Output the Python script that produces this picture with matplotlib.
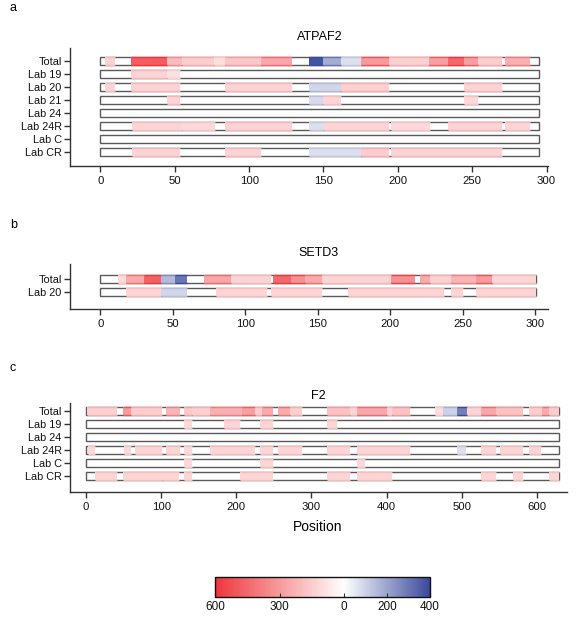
import matplotlib
matplotlib.use("Agg")
import matplotlib.pyplot as plt
from matplotlib.colors import LinearSegmentedColormap, Normalize
import matplotlib as mpl
import numpy as np

plt.rcParams['font.family'] = ['Liberation Sans', 'DejaVu Sans']

# ---------------- data ----------------
atpaf2_rows = ["Total", "Lab 19", "Lab 20", "Lab 21", "Lab 24", "Lab 24R", "Lab C", "Lab CR"]
atpaf2_length = 295
atpaf2_total = [(3, 10, -130), (20.5, 45, -480), (45, 55, -200), (55, 76.5, -150), (76.5, 84, -100),
                (84, 108, -170), (108, 129, -260), (140, 150, 380), (150, 162, 180), (162, 175, 70),
                (175, 194, -300), (194, 221, -140), (221, 234, -280), (234, 244.5, -450),
                (244.5, 254, -280), (254, 270, -150), (272, 289, -230)]
atpaf2_lab19 = [(20.5, 45, -130), (45, 53.5, -90)]
atpaf2_lab20 = [(3, 10, -120), (20.5, 53.5, -130), (84, 129, -130), (140, 161.5, 90),
                (161.5, 194, -140), (244.5, 270, -130)]
atpaf2_lab21 = [(45, 53.5, -130), (140, 150, 80), (150, 162, -120), (244.5, 254, -110)]
atpaf2_lab24 = []
atpaf2_lab24r = [(21.5, 55, -120), (55, 77, -110), (84, 129, -130), (140, 150.5, 70),
                 (150.5, 194, -120), (195.5, 221.4, -110), (233.7, 270, -130), (272, 289, -120)]
atpaf2_labc = []
atpaf2_labcr = [(21.5, 53.5, -130), (84, 108, -130), (140, 175, 70), (175, 194, -150),
                (195.5, 270, -130)]

setd3_rows = ["Total", "Lab 20"]
setd3_length = 301
setd3_total = [(12.3, 18, -110), (18, 30.2, -250), (30.2, 41.5, -470), (41.5, 51.4, 150),
               (51.4, 60.1, 300), (71.6, 90, -260), (90, 117.6, -130), (119, 131.4, -450),
               (131.4, 141.5, -330), (141.5, 153, -250), (153, 200.8, -130), (200.8, 216.9, -330),
               (220.4, 227.3, -250), (227.3, 241.7, -140), (241.7, 259.4, -220),
               (259.4, 270.3, -300), (270.3, 301, -120)]
setd3_lab20 = [(18, 41.5, -120), (41.5, 60.1, 90), (80.1, 115.3, -120), (118, 153, -120),
               (170.9, 237.1, -120), (241.7, 250.2, -120), (259.4, 301, -120)]

f2_rows = ["Total", "Lab 19", "Lab 24", "Lab 24R", "Lab C", "Lab CR"]
f2_length = 630
f2_total = [(1.8, 41.7, -140), (49.7, 59.4, -300), (59.4, 100.7, -150), (106.4, 125, -220),
            (130.4, 140.6, -160), (140.6, 165, -140), (165, 207.1, -230), (207.1, 224.8, -280),
            (224.8, 233.7, -150), (233.7, 249.2, -250), (255.9, 271.4, -250), (271.4, 286.9, -140),
            (321, 351.2, -180), (351.2, 361, -130), (361, 400, -260), (400, 406.6, -130),
            (406.6, 431, -180), (464.3, 475.4, -100), (475.4, 493.1, 100), (493.1, 506.4, 280),
            (506.4, 525, -130), (525, 545.4, -260), (545.4, 581.8, -180), (589.7, 606.1, -150),
            (606.1, 616.3, -250), (616.3, 629.6, -150)]
f2_lab19 = [(130.4, 140.6, -110), (183.6, 204.9, -120), (231, 249.2, -120), (321, 333.5, -120)]
f2_lab24 = []
f2_lab24r = [(3, 12, -110), (50.6, 59.4, -110), (65, 100.7, -120), (106.4, 125, -120),
             (130.4, 140.6, -110), (165, 224.8, -120), (231, 249.2, -120), (255.9, 286.9, -120),
             (321, 351, -120), (361, 431, -120), (493, 506, 70), (525, 545, -120),
             (550.7, 582, -120), (589.7, 606, -120)]
f2_labc = [(130.4, 140.6, -110), (231, 249.2, -120), (361, 371.3, -110)]
f2_labcr = [(12, 41.7, -120), (49.7, 100.7, -120), (100.7, 124, -120), (130.4, 140.6, -120),
            (204.9, 249.2, -120), (321, 351, -120), (361, 406.6, -120), (525, 545.4, -120),
            (568.5, 581.8, -120), (616.3, 629.6, -120)]

cbar_ticks = [-600, -300, 0, 200, 400]
cbar_labels = ["600", "300", "0", "200", "400"]

# ---------------- style ----------------
vmin, vmax = -600, 400
cmap = LinearSegmentedColormap.from_list(
    "rwb", [(0.0, "#EE363B"), (0.6, "#FFFFFF"), (1.0, "#3A4A9C")])
norm = Normalize(vmin, vmax)

W, H = 582, 617
fig = plt.figure(figsize=(W / 100, H / 100), dpi=100)

def px_axes(x0, y0, x1, y1):
    return fig.add_axes([x0 / W, 1 - y1 / H, (x1 - x0) / W, (y1 - y0) / H])

SPINE = "#333333"
BAR_EDGE = "#5a5a5a"
h = 0.62

def draw_panel(ax, rows, length, segs, xlim, ylim, xticks):
    for i, (name, sl) in enumerate(zip(rows, segs)):
        ax.barh(i, length, left=0, height=h, color="white", edgecolor=BAR_EDGE, lw=1.0, zorder=1)
        for s, e, v in sl:
            fc = cmap(norm(v))
            ec = cmap(norm(np.clip(v * 1.7, vmin, vmax)))
            ax.barh(i, e - s, left=s, height=h, color=fc, edgecolor="none", lw=0, zorder=2)
            ax.hlines([i - h / 2, i + h / 2], s, e, colors=[ec], lw=1.0, zorder=3)
    ax.set_xlim(*xlim)
    ax.set_ylim(*ylim)
    ax.set_yticks(range(len(rows)))
    ax.set_yticklabels(rows)
    ax.set_xticks(xticks)
    for sp in ["top", "right"]:
        ax.spines[sp].set_visible(False)
    for sp in ["left", "bottom"]:
        ax.spines[sp].set_color(SPINE)
        ax.spines[sp].set_linewidth(1.0)
    ax.tick_params(axis="both", colors=SPINE, labelcolor="#111111", labelsize=7.8,
                   length=4, width=1.0, pad=2)
    ax.tick_params(axis="x", labelsize=8.2, pad=3)

# panel a
ax_a = px_axes(70, 48, 548, 166)
draw_panel(ax_a, atpaf2_rows, atpaf2_length,
           [atpaf2_total, atpaf2_lab19, atpaf2_lab20, atpaf2_lab21, atpaf2_lab24,
            atpaf2_lab24r, atpaf2_labc, atpaf2_labcr],
           (-20.5, 301), (7 + 14 / 13, -13 / 13), [0, 50, 100, 150, 200, 250, 300])

# panel b
ax_b = px_axes(70, 264, 548, 309)
draw_panel(ax_b, setd3_rows, setd3_length, [setd3_total, setd3_lab20],
           (-21, 309), (1 + 17 / 13, -15 / 13), [0, 50, 100, 150, 200, 250, 300])

# panel c
ax_c = px_axes(70, 403, 567, 492)
draw_panel(ax_c, f2_rows, f2_length,
           [f2_total, f2_lab19, f2_lab24, f2_lab24r, f2_labc, f2_labcr],
           (-21.3, 640), (5 + 16 / 13, -8 / 13), [0, 100, 200, 300, 400, 500, 600])

# titles and panel letters
fig.text(320 / W, 1 - 37 / H, "ATPAF2", ha="center", va="center", fontsize=9)
fig.text(318 / W, 1 - 253 / H, "SETD3", ha="center", va="center", fontsize=9)
fig.text(318 / W, 1 - 396 / H, "F2", ha="center", va="center", fontsize=9)
for lbl, y in [("a", 8), ("b", 225), ("c", 368)]:
    fig.text(10 / W, 1 - y / H, lbl, ha="left", va="center", fontsize=9)
fig.text(318 / W, 1 - 527 / H, "Position", ha="center", va="center", fontsize=10)

# colorbar
cax = px_axes(215, 577, 430, 597)
cb = mpl.colorbar.ColorbarBase(cax, cmap=cmap, norm=norm, orientation="horizontal")
cb.set_ticks(cbar_ticks)
cb.set_ticklabels(cbar_labels)
cb.outline.set_edgecolor("#111111")
cb.outline.set_linewidth(1.0)
cax.tick_params(axis="x", direction="in", length=3, width=0.8, colors="#333333",
                labelcolor="#111111", labelsize=8.5, pad=3)

fig.savefig("out.png", dpi=100)
